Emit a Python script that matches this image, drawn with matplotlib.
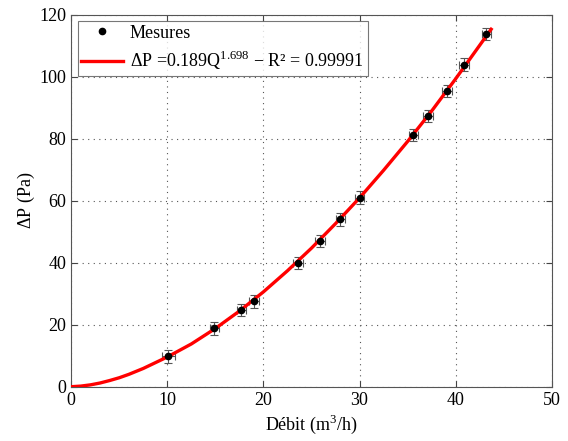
import matplotlib
matplotlib.use("Agg")
import matplotlib.pyplot as plt

plt.rcParams['font.family'] = ['Liberation Serif', 'DejaVu Serif']
plt.rcParams['mathtext.fontset'] = 'custom'
plt.rcParams['mathtext.rm'] = 'Liberation Serif'

# measured points
q_meas = [10.1, 14.9, 17.7, 19.0, 23.6, 25.9, 28.0, 30.0, 35.6, 37.1, 39.1, 40.9, 43.2]
dp_meas = [9.8, 18.8, 24.8, 27.5, 40.0, 47.0, 54.0, 61.0, 81.2, 87.3, 95.4, 103.9, 113.8]
q_err = [0.7, 0.5, 0.5, 0.5, 0.5, 0.5, 0.5, 0.5, 0.5, 0.5, 0.5, 0.5, 0.5]
dp_err = [2.0, 2.0, 2.0, 2.0, 2.0, 2.0, 2.0, 2.0, 2.0, 2.0, 2.0, 2.0, 2.0]

# fitted curve
q_fit = [0, 1, 2, 3, 4, 5, 6, 7.5, 10, 12.5, 15, 17.5, 20, 22.5, 25, 27.5, 30, 32.5, 35, 37.5, 40, 42.5, 43.7]
dp_fit = [0, 0.2, 0.6, 1.2, 2.0, 2.9, 4.0, 5.9, 9.6, 13.8, 18.8, 24.4, 30.6, 37.4, 44.7, 52.6, 60.9, 69.8, 79.1, 88.9, 99.3, 110.1, 115.3]

fig = plt.figure(figsize=(5.68, 4.41), dpi=100)
ax = fig.add_axes([0.1255, 0.1231, 0.9713 - 0.1255, 0.9667 - 0.1231])

ax.errorbar(q_meas, dp_meas, xerr=q_err, yerr=dp_err, fmt='none',
            ecolor='#555555', elinewidth=0.8, capsize=3, capthick=0.8, zorder=2)
line, = ax.plot(q_fit, dp_fit, color='red', lw=2.4, zorder=3,
                label=r'$\Delta$P =0.189Q$^{1.698}$ $-$ R² = 0.99991')
pts, = ax.plot(q_meas, dp_meas, 'o', color='black', ms=4.5, zorder=4, label='Mesures')

ax.set_xlim(0, 50)
ax.set_ylim(0, 120)
ax.set_xticks([0, 10, 20, 30, 40, 50])
ax.set_yticks([0, 20, 40, 60, 80, 100, 120])
ax.grid(True, linestyle=(0, (1, 4)), color='#555555', linewidth=0.8)
ax.tick_params(direction='in', top=True, right=True, labelsize=13, length=4, color='#444444')
for s in ax.spines.values():
    s.set_color('#555555')
    s.set_linewidth(0.8)

ax.set_xlabel(r'Débit (m$^3$/h)', fontsize=13, labelpad=3)
ax.set_ylabel(r'$\Delta$P (Pa)', fontsize=13, labelpad=2)

leg = ax.legend(handles=[pts, line], loc='upper left', fontsize=13,
                frameon=True, fancybox=False, edgecolor='#555555',
                bbox_to_anchor=(0.0, 1.0), borderaxespad=0.35,
                handlelength=2.3, handletextpad=0.4, borderpad=0.2, labelspacing=0.4)
leg.get_frame().set_linewidth(0.8)

fig.savefig('out.png', dpi=100)
